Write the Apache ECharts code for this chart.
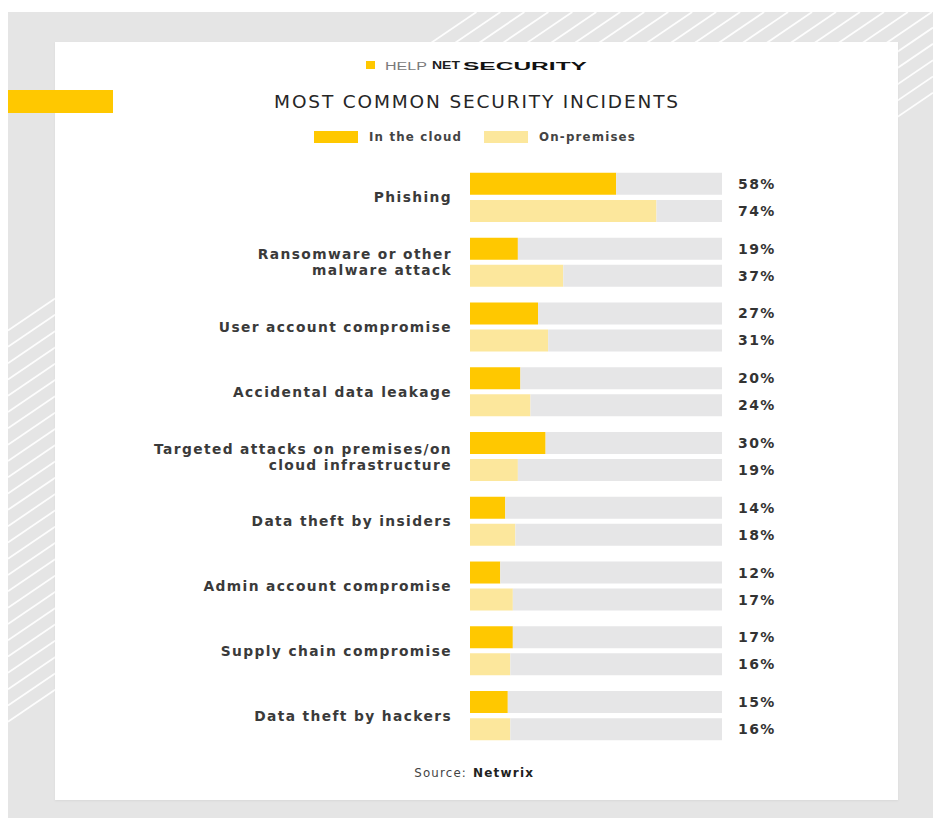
<!DOCTYPE html>
<html>
<head>
<meta charset="utf-8">
<title>Most common security incidents</title>
<script src="https://cdn.jsdelivr.net/npm/echarts@6/dist/echarts.min.js"></script>
<style>
  html, body { margin: 0; padding: 0; background: #ffffff; }
  #chart { width: 933px; height: 820px; }
  /* wide, tracked typography for the infographic texts */
  #chart text { letter-spacing: 0.1em; }
  #chart text[style*="Liberation"] { letter-spacing: 0; }
</style>
</head>
<body>
<div id="chart"></div>
<script>
// ---- data ----
const categories = [
  'Phishing',
  'Ransomware or other\nmalware attack',
  'User account compromise',
  'Accidental data leakage',
  'Targeted attacks on premises/on\ncloud infrastructure',
  'Data theft by insiders',
  'Admin account compromise',
  'Supply chain compromise',
  'Data theft by hackers'
];
const inTheCloud = [58, 19, 27, 20, 30, 14, 12, 17, 15];
const onPremises = [74, 37, 31, 24, 19, 18, 17, 16, 16];
const seriesNames = ['In the cloud', 'On-premises'];
const scaleMax = 100;

// ---- palette & fonts ----
const CLOUD = '#FFC800';
const PREMISES = '#FCE79C';
const TRACK = '#E6E6E7';
const PAGE_GRAY = '#E5E5E5';
const FONT = 'DejaVu Sans';
const LOGO_FONT = 'Liberation Sans';

const chart = echarts.init(document.getElementById('chart'), null, { renderer: 'svg' });

// diagonal white hatching on the gray frame
const frame = { x1: 8, y1: 12, x2: 933, y2: 818 };
const slope = 0.68, step = 16.3;
const stripes = [];
for (let c = 336; c <= 732; c += step) {
  const xa = Math.max(frame.x1, (c - frame.y2) / slope);
  const xb = Math.min(frame.x2, (c - frame.y1) / slope);
  if (xa < xb) {
    stripes.push({
      type: 'line', silent: true, z: -9,
      shape: { x1: xa, y1: c - slope * xa, x2: xb, y2: c - slope * xb },
      style: { stroke: 'rgba(255,255,255,0.9)', lineWidth: 1.8 }
    });
  }
}

// logo words stretched to the brand's extended lettering
const measureCtx = document.createElement('canvas').getContext('2d');
function logoWord(text, x, width, weight, color) {
  const font = weight + ' 11px "' + LOGO_FONT + '"';
  measureCtx.font = font;
  const w = measureCtx.measureText(text).width;
  return {
    type: 'text', silent: true, x: x, y: 66, scaleX: width / w,
    style: { text: text, font: font, fill: color, align: 'left', verticalAlign: 'middle' }
  };
}

const option = {
  animation: false,
  graphic: [
    { type: 'rect', silent: true, z: -10,
      shape: { x: frame.x1, y: frame.y1, width: frame.x2 - frame.x1, height: frame.y2 - frame.y1 },
      style: { fill: PAGE_GRAY } },
    ...stripes,
    { type: 'rect', silent: true, z: -8,
      shape: { x: 55, y: 42, width: 843, height: 758 },
      style: { fill: '#ffffff', shadowColor: 'rgba(0,0,0,0.06)', shadowBlur: 2, shadowOffsetY: 1 } },
    { type: 'rect', silent: true, z: -7,
      shape: { x: 8, y: 90, width: 105, height: 23 },
      style: { fill: CLOUD } },
    // logo
    { type: 'rect', silent: true, shape: { x: 366, y: 61, width: 9, height: 8 }, style: { fill: CLOUD } },
    logoWord('HELP', 385, 42, 'normal', '#7a7a7a'),
    logoWord('NET', 432, 28, 'bold', '#1e1e1e'),
    logoWord('SECURITY', 463, 124, 'bold', '#111111'),
    // title
    { type: 'text', silent: true, x: 477, y: 101,
      style: { text: 'MOST COMMON SECURITY INCIDENTS', font: '18.5px "' + FONT + '"', fill: '#262626',
               align: 'center', verticalAlign: 'middle' } },
    // source line
    { type: 'text', silent: true, x: 467, y: 773,
      style: { text: 'Source:', font: '11.8px "' + FONT + '"', fill: '#444444', align: 'right', verticalAlign: 'middle' } },
    { type: 'text', silent: true, x: 473, y: 773,
      style: { text: 'Netwrix', font: 'bold 12px "' + FONT + '"', fill: '#222222', align: 'left', verticalAlign: 'middle' } }
  ],
  legend: {
    data: seriesNames,
    left: 309, top: 126,
    icon: 'rect',
    itemWidth: 44, itemHeight: 12,
    itemGap: 36,
    selectedMode: false,
    textStyle: { fontFamily: FONT, fontSize: 11.8, fontWeight: 'bold', color: '#444444', padding: [0, 0, 0, 6] }
  },
  grid: { left: 470, right: 211, top: 165, bottom: 72, containLabel: false },
  xAxis: { type: 'value', min: 0, max: scaleMax, show: false },
  yAxis: {
    type: 'category',
    data: categories,
    inverse: true,
    axisLine: { show: false },
    axisTick: { show: false },
    splitLine: { show: false },
    axisLabel: {
      margin: 18, fontFamily: FONT, fontSize: 13.8, fontWeight: 'bold',
      color: '#3a3a3a', lineHeight: 16, align: 'right'
    }
  },
  series: [
    { name: seriesNames[0], type: 'bar', stack: 'cloud', data: inTheCloud,
      barWidth: 22, barGap: '23%', itemStyle: { color: CLOUD } },
    { name: 'cloud-track', type: 'bar', stack: 'cloud', silent: true,
      data: inTheCloud.map(v => scaleMax - v),
      barWidth: 22, barGap: '23%', itemStyle: { color: TRACK },
      label: { show: true, position: 'right', distance: 16,
               fontFamily: FONT, fontSize: 14, fontWeight: 'bold', color: '#333333',
               formatter: p => inTheCloud[p.dataIndex] + '%' } },
    { name: seriesNames[1], type: 'bar', stack: 'premises', data: onPremises,
      barWidth: 22, barGap: '23%', itemStyle: { color: PREMISES } },
    { name: 'premises-track', type: 'bar', stack: 'premises', silent: true,
      data: onPremises.map(v => scaleMax - v),
      barWidth: 22, barGap: '23%', itemStyle: { color: TRACK },
      label: { show: true, position: 'right', distance: 16,
               fontFamily: FONT, fontSize: 14, fontWeight: 'bold', color: '#333333',
               formatter: p => onPremises[p.dataIndex] + '%' } }
  ]
};

chart.setOption(option);
</script>
</body>
</html>
